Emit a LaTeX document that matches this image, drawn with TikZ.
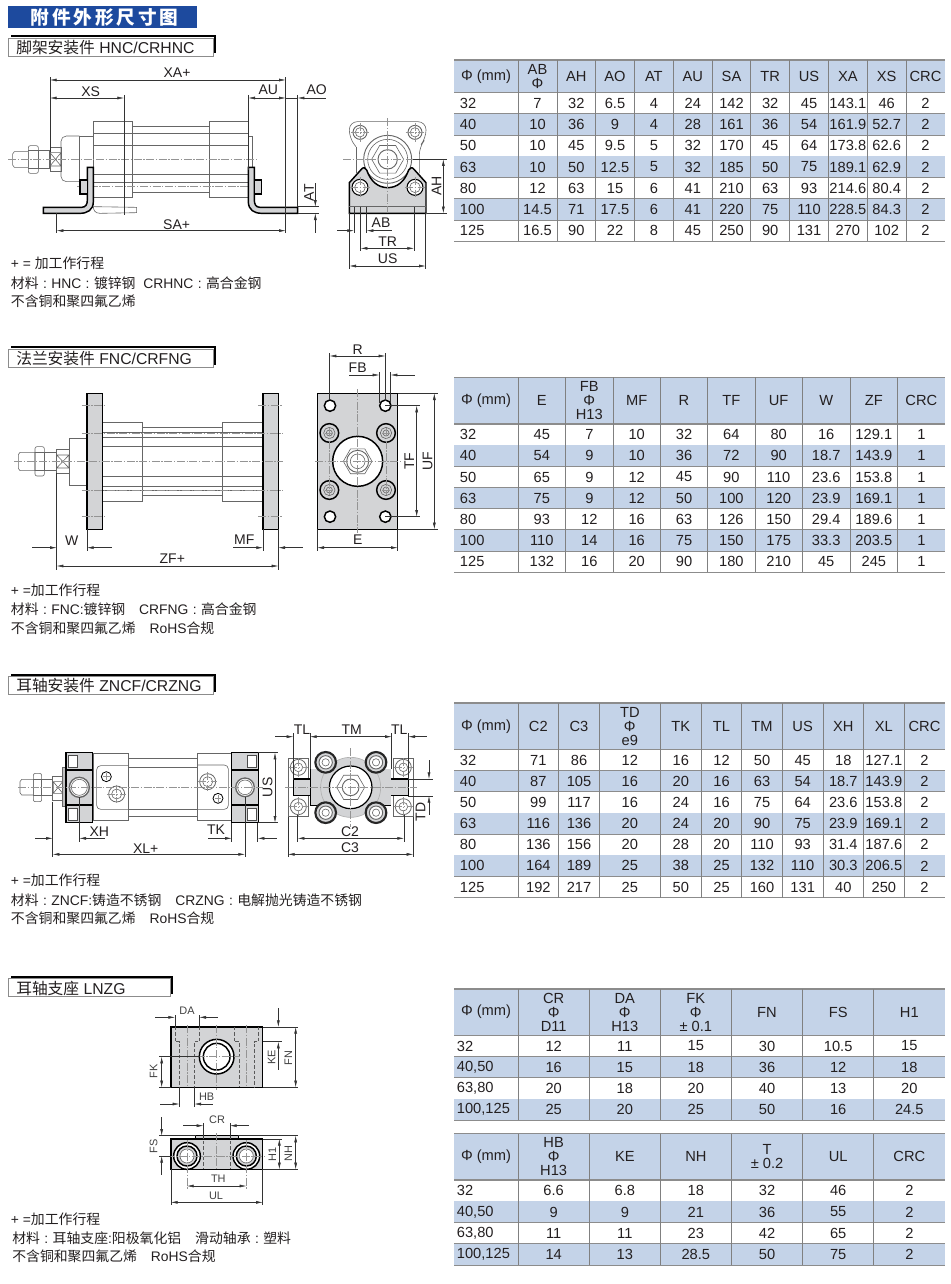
\documentclass[tikz,border=0pt]{standalone}
\usepackage{fontspec}
\setmainfont{Liberation Sans}
\newfontfamily\cjk{Noto Sans CJK SC}
\newfontfamily\titlefont[LetterSpace=15]{Noto Sans CJK SC}
\usetikzlibrary{arrows.meta}

\definecolor{headblue}{HTML}{C4D3E8}
\definecolor{titleblue}{HTML}{1D4A9E}
\definecolor{inkc}{HTML}{231F20}
\definecolor{metalc}{HTML}{D3D4D6}

\tikzset{
  part/.style={draw=black!60,line width=.45pt},
  heavy/.style={draw=black,line width=1.1pt},
  metal/.style={fill=metalc},
  cline/.style={draw=black!42,line width=.3pt,dash pattern=on 6pt off 1.2pt on 1pt off 1.2pt},
  dimline/.style={draw=black!80,line width=.35pt,>={Latex[length=5pt,width=2.2pt]}},
  hidden/.style={draw=black!65,line width=.4pt,dash pattern=on 2.4pt off 1.6pt},
  dimlabel/.style={inner sep=0pt,text=inkc,font=\fontsize{10.5}{12}\selectfont},
  dimrot/.style={dimlabel,rotate=90},
  smalllabel/.style={inner sep=0pt,text=black!75,font=\fontsize{8.2}{10}\selectfont},
  smallrot/.style={smalllabel,rotate=90},
  note/.style={inner sep=0pt,anchor=west,text=inkc,font=\fontsize{10.4}{12}\selectfont},
  cellbox/.style={inner sep=0pt,text=inkc,align=center,font=\fontsize{11}{10.5}\selectfont},
  hline/.style={draw=black!45,line width=.8pt},
  vline/.style={draw=black!50,line width=.7pt}
}

% wide colon of the notes
\newcommand{\wcolon}{\hspace{3.3pt}:\hspace{3.3pt}}

% section heading: y of top line, x of right end, text
\newcommand{\sectitle}[4]{
  \draw[draw=black!45,fill=white,line width=.6pt] (25,#2+6) rectangle (#3-5,#2+60);
  \draw[line width=1.5pt] (33,#2) -- (#3+3,#2);
  \draw[line width=1.5pt] (#3,#2) -- (#3,#2+52);
  \node[inner sep=0pt,anchor=west,text=inkc,font=\fontsize{11.8}{13}\selectfont] (#1) at (48,#2+34) {#4};
}

% hexagon around a centre
\newcommand{\hexnut}[2]{
  \draw[part,shift={(#1)}] (0:#2) -- (60:#2) -- (120:#2) -- (180:#2) -- (240:#2) -- (300:#2) -- cycle;
}

% cross of centre lines
\newcommand{\crossmark}[2]{
  \draw[cline,shift={(#1)}] (-#2,0) -- (#2,0) (0,-#2) -- (0,#2);
}

% name, columns, top, head bottom, bottom, row height, x of first column, head cells, rows
\newcommand{\datatable}[9]{
  \pgfmathsetmacro\lastcol{dim({#2})-1}
  \pgfmathsetmacro\tabL{{#2}[0]}
  \pgfmathsetmacro\tabR{{#2}[\lastcol]}
  \fill[headblue] (\tabL,#3) rectangle (\tabR,#4);
  \foreach \rowv [count=\rr] in {#9} {
    \pgfmathsetmacro\ya{#4+(\rr-1)*#6}
    \pgfmathsetmacro\yb{#4+\rr*#6}
    \pgfmathsetmacro\ym{(\ya+\yb)/2}
    \ifodd\rr\else \fill[headblue] (\tabL,\ya) rectangle (\tabR,\yb); \fi
    \foreach \cellv [count=\i from 0] in \rowv {
      \pgfmathsetmacro\xa{{#2}[\i]}
      \pgfmathsetmacro\xb{{#2}[\i+1]}
      \ifnum\i=0
        \node[cellbox,anchor=west] (#1r\rr c\i) at (#7,\ym) {\cellv};
      \else
        \node[cellbox] (#1r\rr c\i) at ({(\xa+\xb)/2},\ym) {\cellv};
      \fi
    }
    \draw[hline] (\tabL,\yb) -- (\tabR,\yb);
  }
  \foreach \cellv [count=\i from 0] in {#8} {
    \pgfmathsetmacro\xa{{#2}[\i]}
    \pgfmathsetmacro\xb{{#2}[\i+1]}
    \node[cellbox] (#1h\i) at ({(\xa+\xb)/2},{(#3+#4)/2}) {\cellv};
  }
  \draw[hline,line width=1.1pt] (\tabL,#3) -- (\tabR,#3);
  \draw[hline] (\tabL,#4) -- (\tabR,#4);
  \foreach \xv in {#2} {
    \ifdim\xv pt>\tabL pt \ifdim\xv pt<\tabR pt
      \draw[vline] (\xv,#3) -- (\xv,#5);
    \fi\fi
  }
}

\begin{document}
\begin{tikzpicture}[x=.25pt,y=-.25pt]
\useasboundingbox (0,0) rectangle (2850,3852);

% page heading
\fill[titleblue] (25,18) rectangle (590,85);
\node[inner sep=0pt,text=white,font=\fontsize{14}{16}\selectfont\titlefont\bfseries] (pagetitle) at (314,52) {附件外形尺寸图};

%----------------------- HNC
\sectitle{titleHNC}{108}{645}{{\cjk 脚架安装件} HNC/CRHNC}

% rod, nut, wrench flat
\draw[part] (38,462) -- (43,455) -- (85,455) -- (85,502) -- (43,502) -- (38,495) -- cycle;
\draw[part,rounded corners=1.5pt] (85,437) rectangle (115,520);
\draw[part] (85,452) -- (115,452) (85,505) -- (115,505);
\draw[part] (115,452) rectangle (147,505);
\draw[part] (150,442) rectangle (183,515);
\draw[part] (150,458) rectangle (183,498) (150,458) -- (183,498) (150,498) -- (183,458);
\draw[part,rounded corners=4pt] (238,408) -- (183,408) -- (183,545) -- (238,545);
\draw[part] (238,408) -- (280,408) (238,408) -- (238,545) -- (280,545);
% covers and tube
\draw[part] (280,365) rectangle (398,593);
\draw[part] (398,380) rectangle (627,578);
\draw[part] (627,365) rectangle (745,593);
\draw[part] (745,408) -- (757,408) -- (757,505);
\foreach \yl in {400,437,523,548}
  \draw[part] (280,\yl) -- (745,\yl);
\draw[part] (280,620) -- (410,622) -- (410,638) -- (300,640) .. controls (285,640) and (280,630) .. (280,620);
\draw[cline] (25,478) -- (775,478);
\draw[cline] (232,560) -- (780,560);
% feet
\filldraw[metal,heavy] (130,622) -- (245,622) .. controls (258,622) and (262,612) .. (262,600) -- (262,502) -- (280,502) -- (280,605) .. controls (280,630) and (262,640) .. (240,640) -- (130,640) -- cycle;
\filldraw[metal,heavy] (763,502) -- (745,502) -- (745,605) .. controls (745,630) and (763,640) .. (785,640) -- (893,640) -- (893,622) -- (780,622) .. controls (767,622) and (763,612) .. (763,600) -- cycle;
\filldraw[metal,heavy,line width=.8pt] (240,540) rectangle (262,582);
\filldraw[metal,heavy,line width=.8pt] (763,540) rectangle (785,582);
% dimensions
\draw[dimline] (150,232) -- (150,455) (857,232) -- (857,700) (372,285) -- (372,645) (745,285) -- (745,510) (893,285) -- (893,620) (170,640) -- (170,700);
\draw[dimline,<->] (150,240) -- (857,240);
\draw[dimline,<->] (150,294) -- (372,294);
\draw[dimline,<->] (745,294) -- (857,294);
\draw[dimline] (857,294) -- (893,294);
\draw[dimline,<-] (893,294) -- (978,294);
\draw[dimline,<->] (170,692) -- (857,692);
\draw[dimline] (895,620) -- (957,620) (895,640) -- (957,640);
\draw[dimline,<-] (946,620) -- (946,550);
\draw[dimline,<-] (946,640) -- (946,700);
\node[dimlabel] (lblXA) at (531,219) {XA+};
\node[dimlabel] (lblXS) at (272,274) {XS};
\node[dimlabel] (lblAU) at (805,268) {AU};
\node[dimlabel] (lblAO) at (950,268) {AO};
\node[dimlabel] (lblSA) at (530,673) {SA+};
\node[dimrot] (lblAT) at (927,578) {AT};

% end view
\draw[part,rounded corners=6pt] (1068,440) -- (1048,415) -- (1048,365) -- (1278,365) -- (1278,415) -- (1258,440) -- (1258,520);
\draw[part] (1068,440) -- (1068,520);
\foreach \hx in {1080,1245} {
  \draw[part,line width=.7pt] (\hx,397) circle (21);
  \draw[part] (\hx,397) circle (14);
  \crossmark{\hx,397}{28}
}
\draw[part,line width=.7pt] (1163,478) circle (72);
\draw[part] (1163,478) circle (60);
\hexnut{1163,478}{48}
\draw[part,line width=.7pt] (1163,478) circle (29);
\filldraw[metal,heavy] (1048,640) -- (1048,548) -- (1084,508) .. controls (1090,500) and (1096,503) .. (1100,510) .. controls (1112,545) and (1135,563) .. (1163,563) .. controls (1191,563) and (1214,545) .. (1226,510) .. controls (1230,503) and (1236,500) .. (1242,508) -- (1278,548) -- (1278,640) -- cycle;
\draw[part] (1048,620) -- (1278,620);
\foreach \hx in {1080,1245} {
  \draw[heavy,fill=white,line width=.8pt] (\hx,562) circle (24);
  \draw[part] (\hx,562) circle (16);
  \crossmark{\hx,562}{30}
}
\draw[cline] (1163,355) -- (1163,640);
\draw[cline] (1030,478) -- (1290,478);
\draw[dimline] (1240,478) -- (1340,478) (1280,640) -- (1340,640);
\draw[dimline,<->] (1330,478) -- (1330,640);
\node[dimrot] (lblAH) at (1310,557) {AH};
\draw[dimline] (1062,620) -- (1062,700) (1100,620) -- (1100,700) (1082,620) -- (1082,752) (1242,620) -- (1242,752) (1048,640) -- (1048,806) (1277,640) -- (1277,806);
\draw[dimline,<-] (1062,692) -- (1012,692);
\draw[dimline,<-] (1100,692) -- (1175,692);
\draw[dimline,<->] (1082,745) -- (1242,745);
\draw[dimline,<->] (1048,798) -- (1277,798);
\node[dimlabel] (lblAB) at (1143,669) {AB};
\node[dimlabel] (lblTR) at (1163,724) {TR};
\node[dimlabel] (lblUS) at (1163,777) {US};

\node[note] (noteHa) at (32,790) {+ = {\cjk 加工作行程}};
\node[note] (noteHb) at (32,850) {{\cjk 材料}\wcolon HNC\wcolon{\cjk 镀锌钢}\ \ CRHNC\wcolon{\cjk 高合金钢}};
\node[note] (noteHc) at (32,903) {{\cjk 不含铜和聚四氟乙烯}};

\begin{scope}[shift={(1350,150)}]
\datatable{ta}{12,204,321,437,553,670,787,902,1019,1135,1252,1368,1485}{30}{128}{574}{63.7}{29}
  {Φ (mm),{AB\\Φ},AH,AO,AT,AU,SA,TR,US,XA,XS,CRC}
  {{32,7,32,6.5,4,24,142,32,45,143.1,46,2},
   {40,10,36,9,4,28,161,36,54,161.9,52.7,2},
   {50,10,45,9.5,5,32,170,45,64,173.8,62.6,2},
   {63,10,50,12.5,5,32,185,50,75,189.1,62.9,2},
   {80,12,63,15,6,41,210,63,93,214.6,80.4,2},
   {100,14.5,71,17.5,6,41,220,75,110,228.5,84.3,2},
   {125,16.5,90,22,8,45,250,90,131,270,102,2}}
\end{scope}

%----------------------- FNC
\begin{scope}[shift={(0,1020)}]
\sectitle{titleFNC}{22}{645}{{\cjk 法兰安装件} FNC/CRFNG}

\draw[part] (55,344) -- (60,337) -- (105,337) -- (105,392) -- (60,392) -- (55,385) -- cycle;
\draw[part,rounded corners=1.5pt] (105,320) rectangle (133,408);
\draw[part] (105,337) -- (133,337) (105,392) -- (133,392);
\draw[part] (133,337) rectangle (170,392);
\draw[part] (170,328) rectangle (207,400);
\draw[part] (170,345) rectangle (207,384) (170,345) -- (207,384) (170,384) -- (207,345);
\draw[part] (207,295) rectangle (261,435);
\draw[part] (307,247) rectangle (428,483);
\draw[part] (428,263) rectangle (667,467);
\draw[part] (667,247) rectangle (789,483);
\foreach \yl in {278,292,320,408,438,452}
  \draw[part] (307,\yl) -- (789,\yl);
\filldraw[metal,heavy] (261,160) rectangle (307,568);
\filldraw[metal,heavy] (789,160) rectangle (835,568);
\draw[cline] (42,364) -- (850,364);
\foreach \yl in {279,451}
  \draw[cline] (245,\yl) -- (850,\yl);
\foreach \yl in {197,530} {
  \draw[cline] (245,\yl) -- (320,\yl);
  \draw[cline] (775,\yl) -- (850,\yl);
}
\draw[dimline] (170,400) -- (170,690) (261,568) -- (261,632) (789,568) -- (789,634) (835,568) -- (835,690);
\draw[dimline,<-] (170,623) -- (97,623);
\draw[dimline,<-] (261,623) -- (335,623);
\draw[dimline,<-] (789,623) -- (700,623);
\draw[dimline,<-] (835,623) -- (908,623);
\draw[dimline,<->] (170,678) -- (835,678);
\node[dimlabel] (lblW) at (215,602) {W};
\node[dimlabel] (lblMF) at (733,600) {MF};
\node[dimlabel] (lblZF) at (517,655) {ZF+};

% flange front
\filldraw[metal,heavy] (952,160) rectangle (1193,568);
\foreach \hx in {990,1156}
  \foreach \hy in {197,530}
    \draw[heavy,fill=white] (\hx,\hy) circle (17);
\foreach \hx in {988,1158}
  \foreach \hy in {279,450} {
    \draw[heavy,fill=metalc] (\hx,\hy) circle (28);
    \draw[part] (\hx,\hy) circle (17);
    \draw[part] (\hx,\hy) circle (9);
  }
\draw[heavy,fill=white] (1073,364) circle (75);
\hexnut{1073,364}{43}
\draw[part,line width=.7pt] (1073,364) circle (33);
\draw[part] (1073,364) circle (22);
\draw[cline] (1073,148) -- (1073,580);
\draw[cline] (945,364) -- (1200,364);
\draw[cline] (975,279) -- (1000,279) (988,265) -- (988,465) (1145,279) -- (1170,279) (1158,265) -- (1158,465) (975,450) -- (1000,450) (1145,450) -- (1170,450);
\draw[dimline] (989,40) -- (989,180) (1156,40) -- (1156,184) (1138,97) -- (1138,190) (1172,97) -- (1172,190);
\draw[dimline,<->] (989,48) -- (1156,48);
\draw[dimline,<-] (1138,105) -- (1048,105);
\draw[dimline,<-] (1172,105) -- (1245,105);
\draw[dimline] (1156,197) -- (1260,197) (1156,530) -- (1260,530) (1193,160) -- (1313,160) (1193,568) -- (1313,568) (952,568) -- (952,632) (1193,568) -- (1193,632);
\draw[dimline,<->] (1250,197) -- (1250,530);
\draw[dimline,<->] (1303,160) -- (1303,568);
\draw[dimline,<->] (952,623) -- (1193,623);
\node[dimlabel] (lblR) at (1073,28) {R};
\node[dimlabel] (lblFB) at (1073,82) {FB};
\node[dimrot] (lblTF) at (1228,364) {TF};
\node[dimrot] (lblUF) at (1283,364) {UF};
\node[dimlabel] (lblE) at (1073,600) {E};

\node[note] (noteFa) at (32,750) {+ ={\cjk 加工作行程}};
\node[note] (noteFb) at (32,808) {{\cjk 材料}\wcolon FNC:{\cjk 镀锌钢}\quad CRFNG\wcolon{\cjk 高合金钢}};
\node[note] (noteFc) at (32,865) {{\cjk 不含铜和聚四氟乙烯}\quad RoHS{\cjk 合规}};
\end{scope}

\begin{scope}[shift={(1350,1110)}]
\datatable{tb}{12,204,347,489,631,773,915,1057,1200,1343,1485}{22}{162}{607}{63.6}{29}
  {Φ (mm),E,{FB\\Φ\\H13},MF,R,TF,UF,W,ZF,CRC}
  {{32,45,7,10,32,64,80,16,129.1,1},
   {40,54,9,10,36,72,90,18.7,143.9,1},
   {50,65,9,12,45,90,110,23.6,153.8,1},
   {63,75,9,12,50,100,120,23.9,169.1,1},
   {80,93,12,16,63,126,150,29.4,189.6,1},
   {100,110,14,16,75,150,175,33.3,203.5,1},
   {125,132,16,20,90,180,210,45,245,1}}
\end{scope}

%----------------------- ZNCF
\begin{scope}[shift={(0,2010)}]
\sectitle{titleZNCF}{14}{645}{{\cjk 耳轴安装件} ZNCF/CRZNG}

\draw[part] (60,335) -- (65,328) -- (100,328) -- (100,375) -- (65,375) -- (60,368) -- cycle;
\draw[part,rounded corners=1.5pt] (100,310) rectangle (125,395);
\draw[part] (100,328) -- (125,328) (100,375) -- (125,375);
\draw[part] (125,328) rectangle (158,375);
\draw[part] (158,320) rectangle (190,390);
\draw[part] (160,335) rectangle (188,370) (160,335) -- (188,370) (160,370) -- (188,335);
\filldraw[fill=black!25,draw=black!60,line width=.5pt] (188,292) rectangle (198,410);
\draw[part] (280,250) rectangle (384,452);
\draw[part] (384,265) rectangle (591,440);
\draw[part] (591,250) rectangle (695,452);
\draw[part] (384,292) -- (591,292) (384,418) -- (591,418);
\draw[part,rounded corners=3pt] (384,287) -- (290,287) -- (290,418) -- (384,418);
\draw[part,rounded corners=3pt] (591,285) -- (685,285) -- (685,418) -- (591,418);
% trunnion blocks
\foreach \bx in {198,695} {
  \filldraw[metal,heavy] (\bx,248) rectangle (\bx+80,458);
}
\filldraw[fill=white,draw=black!70,line width=.6pt] (205,255) rectangle (233,292);
\filldraw[fill=white,draw=black!70,line width=.6pt] (205,415) rectangle (233,452);
\filldraw[fill=white,draw=black!70,line width=.6pt] (741,255) rectangle (769,292);
\filldraw[fill=white,draw=black!70,line width=.6pt] (741,415) rectangle (769,452);
\foreach \bx in {198,695} {
  \draw[draw=black,line width=.9pt] (\bx,300) -- (\bx+80,300) (\bx,405) -- (\bx+80,405);
}
\draw[part,fill=white,line width=1pt] (238,352) circle (30);
\draw[part,fill=white,line width=1pt] (735,352) circle (28);
\draw[part] (238,352) circle (24) (735,352) circle (22);
\draw[heavy,line width=.6pt] (319,320) circle (15) (654,385) circle (15);
\draw[part,line width=.6pt] (350,372) circle (24) (623,335) circle (24);
\draw[part] (350,372) circle (15) (623,335) circle (15);
\crossmark{319,320}{10}
\crossmark{654,385}{10}
\crossmark{350,372}{28}
\crossmark{623,335}{28}
\draw[cline] (55,352) -- (790,352);
\draw[dimline] (158,395) -- (158,562) (238,382) -- (238,515) (695,458) -- (695,515) (773,458) -- (773,515) (735,380) -- (735,562);
\draw[dimline,<-] (158,505) -- (105,505);
\draw[dimline,<-] (238,505) -- (315,505);
\draw[dimline,<-] (695,505) -- (625,505);
\draw[dimline,<-] (773,505) -- (830,505);
\draw[dimline,<->] (158,553) -- (735,553);
\draw[dimline] (775,248) -- (835,248) (775,458) -- (835,458);
\draw[dimline,<->] (825,248) -- (825,458);
\node[dimlabel] (lblXH) at (298,485) {XH};
\node[dimlabel] (lblTK) at (648,480) {TK};
\node[dimlabel] (lblXL) at (437,537) {XL+};
\node[dimrot] (lblUSb) at (803,352) {US};

% trunnion front
\draw[part] (865,265) rectangle (925,440);
\draw[part] (1180,265) rectangle (1240,440);
\foreach \hx in {895,1210}
  \foreach \hy in {292,410} {
    \draw[part,line width=.6pt] (\hx,\hy) circle (24);
    \draw[part] (\hx,\hy) circle (13);
    \crossmark{\hx,\hy}{28}
  }
\filldraw[metal,heavy] (880,327) rectangle (935,377);
\filldraw[metal,heavy] (1170,327) rectangle (1225,377);
\draw[heavy] (932,298) rectangle (1172,405);
\fill[metalc] (932,298) rectangle (1172,405);
\filldraw[fill=metalc,draw=black!30,line width=.5pt] (1052,352) circle (90);
\foreach \hx in {977,1128}
  \foreach \hy in {277,428} {
    \draw[heavy,line width=1.6pt,draw=black!85,fill=metalc] (\hx,\hy) circle (31);
    \draw[part,fill=white,line width=.7pt] (\hx,\hy) circle (20);
    \draw[part] (\hx,\hy) circle (11);
  }
\draw[heavy,fill=white,line width=.9pt] (1052,352) circle (64);
\hexnut{1052,352}{42}
\draw[part,line width=.7pt] (1052,352) circle (25);
\draw[cline] (1052,235) -- (1052,470);
\draw[cline] (855,352) -- (1250,352);
\draw[dimline] (880,190) -- (880,330) (930,190) -- (930,298) (1175,190) -- (1175,298) (1225,190) -- (1225,330);
\draw[dimline,<-] (880,200) -- (825,200);
\draw[dimline,<->] (930,200) -- (1175,200);
\draw[dimline,<-] (1225,200) -- (1280,200);
\draw[dimline] (893,435) -- (893,515) (1212,435) -- (1212,515) (864,440) -- (864,562) (1240,440) -- (1240,562);
\draw[dimline,<->] (893,505) -- (1212,505);
\draw[dimline,<->] (864,553) -- (1240,553);
\draw[dimline] (1225,327) -- (1298,327) (1225,378) -- (1298,378);
\draw[dimline,<-] (1287,327) -- (1287,270);
\draw[dimline,<-] (1287,378) -- (1287,435);
\node[dimlabel] (lblTLa) at (906,178) {TL};
\node[dimlabel] (lblTM) at (1055,178) {TM};
\node[dimlabel] (lblTLb) at (1198,178) {TL};
\node[dimlabel] (lblCa) at (1050,485) {C2};
\node[dimlabel] (lblCb) at (1050,532) {C3};
\node[dimrot] (lblTD) at (1262,425) {TD};

\node[note] (noteZa) at (32,632) {+ ={\cjk 加工作行程}};
\node[note] (noteZb) at (32,690) {{\cjk 材料}\wcolon ZNCF:{\cjk 铸造不锈钢}\quad CRZNG\wcolon{\cjk 电解抛光铸造不锈钢}};
\node[note] (noteZc) at (32,745) {{\cjk 不含铜和聚四氟乙烯}\quad RoHS{\cjk 合规}};
\end{scope}

\begin{scope}[shift={(1350,2085)}]
\datatable{tc}{12,204,326,448,631,754,875,997,1119,1241,1362,1485}{24}{164}{608}{63.4}{29}
  {Φ (mm),C2,C3,{TD\\Φ\\e9},TK,TL,TM,US,XH,XL,CRC}
  {{32,71,86,12,16,12,50,45,18,127.1,2},
   {40,87,105,16,20,16,63,54,18.7,143.9,2},
   {50,99,117,16,24,16,75,64,23.6,153.8,2},
   {63,116,136,20,24,20,90,75,23.9,169.1,2},
   {80,136,156,20,28,20,110,93,31.4,187.6,2},
   {100,164,189,25,38,25,132,110,30.3,206.5,2},
   {125,192,217,25,50,25,160,131,40,250,2}}
\end{scope}

%----------------------- LNZG
\begin{scope}[shift={(0,2910)}]
\sectitle{titleLNZG}{20}{515}{{\cjk 耳轴支座} LNZG}

% top view
\filldraw[metal,heavy] (513,171) rectangle (788,352);
\draw[hidden] (525,171) -- (525,215) -- (538,215) -- (538,352) (598,171) -- (598,215) -- (583,215) -- (583,352) (702,171) -- (702,215) -- (717,215) -- (717,352) (775,171) -- (775,215) -- (762,215) -- (762,352);
\draw[cline] (561,165) -- (561,352) (739,165) -- (739,352);
\draw[heavy,fill=white] (650,260) circle (52);
\draw[heavy,fill=white] (650,260) circle (40);
\draw[cline] (650,165) -- (650,360);
\draw[cline] (590,260) -- (720,260);
\draw[dimline] (525,135) -- (525,172) (598,135) -- (598,172) (538,352) -- (538,410) (583,352) -- (583,410) (788,171) -- (895,171) (788,215) -- (845,215) (788,352) -- (895,352) (478,260) -- (600,260) (478,352) -- (513,352);
\draw[dimline,<-] (525,142) -- (465,142);
\draw[dimline,<-] (598,142) -- (655,142);
\draw[dimline,<-] (835,171) -- (835,115);
\draw[dimline,<-] (835,215) -- (835,300);
\draw[dimline,<->] (887,171) -- (887,352);
\draw[dimline,<->] (485,260) -- (485,352);
\draw[dimline,<-] (538,402) -- (480,402);
\draw[dimline,<-] (583,402) -- (640,402);
\node[smalllabel] (lblDA) at (561,122) {DA};
\node[smallrot] (lblKE) at (815,262) {KE};
\node[smallrot] (lblFN) at (865,264) {FN};
\node[smallrot] (lblFK) at (461,305) {FK};
\node[smalllabel] (lblHB) at (620,380) {HB};

% bottom view
\filldraw[metal,heavy,line width=.8pt] (587,497) rectangle (715,507);
\filldraw[metal,heavy] (513,507) rectangle (788,598);
\draw[hidden] (610,497) -- (610,598) (690,497) -- (690,598);
\foreach \hx in {561,739} {
  \draw[heavy,fill=white] (\hx,558) circle (40);
  \draw[heavy,fill=metalc] (\hx,558) circle (30);
  \draw[part,fill=white] (\hx,558) circle (21);
  \draw[cline] (\hx,510) -- (\hx,660);
}
\draw[cline] (650,490) -- (650,600);
\draw[cline] (500,558) -- (800,558);
\draw[dimline] (610,460) -- (610,505) (690,460) -- (690,505) (478,497) -- (587,497) (478,558) -- (513,558) (715,497) -- (895,497) (788,507) -- (845,507) (788,598) -- (895,598) (513,598) -- (513,705) (788,598) -- (788,705);
\draw[dimline,<-] (610,467) -- (550,467);
\draw[dimline,<-] (690,467) -- (748,467);
\draw[dimline,<-] (485,497) -- (485,440);
\draw[dimline,<-] (485,558) -- (485,615);
\draw[dimline,<->] (838,507) -- (838,598);
\draw[dimline,<->] (887,497) -- (887,598);
\draw[dimline,<->] (561,648) -- (739,648);
\draw[dimline,<->] (513,697) -- (788,697);
\node[smalllabel] (lblCR) at (651,448) {CR};
\node[smallrot] (lblFS) at (461,530) {FS};
\node[smallrot] (lblH) at (817,553) {H1};
\node[smallrot] (lblNH) at (865,550) {NH};
\node[smalllabel] (lblTH) at (655,627) {TH};
\node[smalllabel] (lblUL) at (648,678) {UL};

\node[note] (noteLa) at (32,748) {+ ={\cjk 加工作行程}};
\node[note] (noteLb) at (36,805) {{\cjk 材料}\wcolon{\cjk 耳轴支座}:{\cjk 阳极氧化铝}\quad{\cjk 滑动轴承}\wcolon{\cjk 塑料}};
\node[note] (noteLc) at (36,860) {{\cjk 不含铜和聚四氟乙烯}\quad RoHS{\cjk 合规}};
\end{scope}

\begin{scope}[shift={(1350,2940)}]
\datatable{td}{12,204,418,631,844,1058,1271,1485}{27}{166}{421}{63.75}{20}
  {Φ (mm),{CR\\Φ\\D11},{DA\\Φ\\H13},{FK\\Φ\\± 0.1},FN,FS,H1}
  {{32,12,11,15,30,10.5,15},
   {{40,50},16,15,18,36,12,18},
   {{63,80},20,18,20,40,13,20},
   {{100,125},25,20,25,50,16,24.5}}
\datatable{te}{12,204,418,631,844,1058,1271,1485}{461}{600}{856}{64}{20}
  {Φ (mm),{HB\\Φ\\H13},KE,NH,{T\\± 0.2},UL,CRC}
  {{32,6.6,6.8,18,32,46,2},
   {{40,50},9,9,21,36,55,2},
   {{63,80},11,11,23,42,65,2},
   {{100,125},14,13,28.5,50,75,2}}
\end{scope}

\end{tikzpicture}
\end{document}
